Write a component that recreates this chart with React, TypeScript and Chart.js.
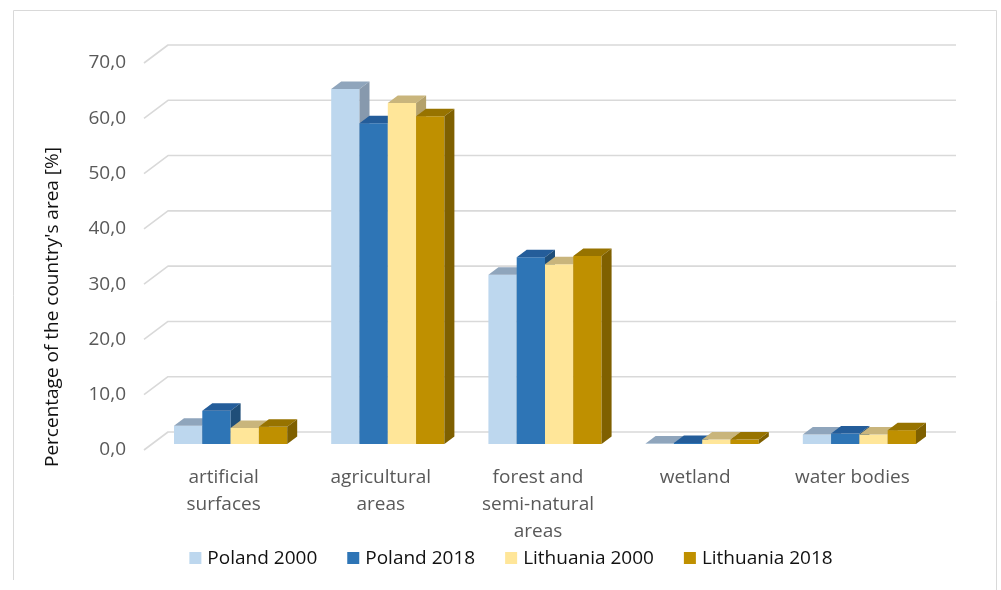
import React, { useEffect, useRef } from 'react';
import { Chart, registerables } from 'chart.js';

Chart.register(...registerables);

// Land-cover categories (multi-line axis labels)
const categories: (string | string[])[] = [
  ['artificial', 'surfaces'],
  ['agricultural', 'areas'],
  ['forest and', 'semi-natural', 'areas'],
  'wetland',
  'water bodies',
];

const seriesNames = ['Poland 2000', 'Poland 2018', 'Lithuania 2000', 'Lithuania 2018'];

// Share of the country's area, %
const poland2000 = [3.3, 64.2, 30.6, 0.1, 1.7];
const poland2018 = [6.0, 58.0, 33.8, 0.2, 1.9];
const lithuania2000 = [2.9, 61.7, 32.5, 0.8, 1.7];
const lithuania2018 = [3.1, 59.3, 34.0, 0.8, 2.5];

const yMin = 0;
const yMax = 70;
const yStep = 10;

// Face colours of the 3D columns
const frontColors = ['#BDD7EE', '#2E75B6', '#FFE699', '#BF9000'];
const topColors = ['#8FA5BC', '#245D9A', '#C9B57C', '#977300'];
const sideColors = ['#8799AD', '#1F4E79', '#B4A16B', '#7F6000'];

const FONT = '"Open Sans", sans-serif';
const TICK_COLOR = '#595959';
const TEXT_COLOR = '#111111';
const GRID_COLOR = '#D9D9D9';

// Oblique projection offsets relative to the front plane of the columns
const FRONT_WALL = { dx: -8, dy: 6 };
const BACK_WALL = { dx: 16, dy: -12 };
const BAR_DEPTH = { dx: 10, dy: -7.5 };

const formatTick = (v: number) => Number(v).toFixed(1).replace('.', ',');

const threeDPlugin = {
  id: 'threeDColumns',
  beforeDatasetsDraw(chart: any) {
    const { ctx, chartArea, scales } = chart;
    const y = scales.y;
    ctx.save();
    ctx.strokeStyle = GRID_COLOR;
    ctx.lineWidth = 1.6;
    ctx.lineJoin = 'round';
    y.ticks.forEach((t: any) => {
      const py = y.getPixelForValue(t.value);
      ctx.beginPath();
      ctx.moveTo(chartArea.left + FRONT_WALL.dx, py + FRONT_WALL.dy);
      ctx.lineTo(chartArea.left + BACK_WALL.dx, py + BACK_WALL.dy);
      ctx.lineTo(chartArea.right + BACK_WALL.dx + 2, py + BACK_WALL.dy);
      ctx.stroke();
    });
    ctx.restore();
  },
  beforeDatasetDraw() {
    // columns are painted group by group in afterDatasetsDraw
    return false;
  },
  afterDatasetsDraw(chart: any) {
    const ctx = chart.ctx;
    const count = chart.data.labels.length;
    const metas = chart.data.datasets.map((_: any, i: number) => chart.getDatasetMeta(i));
    for (let c = 0; c < count; c++) {
      metas.forEach((meta: any, d: number) => {
        const bar = meta.data[c];
        if (!bar) return;
        const { x, y, base, width } = bar.getProps(['x', 'y', 'base', 'width'], true);
        const l = x - width / 2;
        const r = x + width / 2;
        bar.draw(ctx);
        ctx.save();
        // top face
        ctx.fillStyle = topColors[d];
        ctx.beginPath();
        ctx.moveTo(l, y);
        ctx.lineTo(l + BAR_DEPTH.dx, y + BAR_DEPTH.dy);
        ctx.lineTo(r + BAR_DEPTH.dx, y + BAR_DEPTH.dy);
        ctx.lineTo(r, y);
        ctx.closePath();
        ctx.fill();
        // right side face
        ctx.fillStyle = sideColors[d];
        ctx.beginPath();
        ctx.moveTo(r, y);
        ctx.lineTo(r + BAR_DEPTH.dx, y + BAR_DEPTH.dy);
        ctx.lineTo(r + BAR_DEPTH.dx, base + BAR_DEPTH.dy);
        ctx.lineTo(r, base);
        ctx.closePath();
        ctx.fill();
        ctx.restore();
      });
    }
  },
  afterDraw(chart: any) {
    const ctx = chart.ctx;
    ctx.save();

    // outer frame
    ctx.strokeStyle = GRID_COLOR;
    ctx.lineWidth = 1;
    ctx.beginPath();
    ctx.moveTo(13.5, 580);
    ctx.lineTo(13.5, 10.5);
    ctx.lineTo(996.5, 10.5);
    ctx.lineTo(996.5, 590);
    ctx.stroke();

    // y-axis title
    ctx.font = `19px ${FONT}`;
    ctx.fillStyle = TEXT_COLOR;
    ctx.textAlign = 'center';
    ctx.textBaseline = 'middle';
    ctx.save();
    ctx.translate(53, 307);
    ctx.rotate(-Math.PI / 2);
    ctx.fillText("Percentage of the country's area [%]", 0, 0);
    ctx.restore();

    // legend
    const box = 12;
    const boxGap = 6;
    const itemGap = 30;
    const names = chart.data.datasets.map((ds: any) => ds.label);
    const widths = names.map((n: string) => box + boxGap + ctx.measureText(n).width);
    const total = widths.reduce((a: number, b: number) => a + b, 0) + itemGap * (names.length - 1);
    let lx = 511 - total / 2;
    const ly = 558;
    ctx.textAlign = 'left';
    names.forEach((n: string, i: number) => {
      ctx.fillStyle = chart.data.datasets[i].backgroundColor;
      ctx.fillRect(lx, ly - box / 2, box, box);
      ctx.fillStyle = TEXT_COLOR;
      ctx.fillText(n, lx + box + boxGap, ly + 1);
      lx += widths[i] + itemGap;
    });
    ctx.restore();
  },
};

export default function App() {
  const canvasRef = useRef<HTMLCanvasElement | null>(null);

  useEffect(() => {
    const canvas = canvasRef.current;
    if (!canvas) return;
    const values = [poland2000, poland2018, lithuania2000, lithuania2018];
    const chart = new Chart(canvas, {
      type: 'bar',
      data: {
        labels: categories as any,
        datasets: seriesNames.map((name, i) => ({
          label: name,
          data: values[i],
          backgroundColor: frontColors[i],
          borderWidth: 0,
          categoryPercentage: 0.72,
          barPercentage: 1,
        })),
      },
      options: {
        animation: false,
        responsive: false,
        events: [],
        layout: { padding: { left: 0, right: 63, top: 57, bottom: 0 } },
        plugins: {
          legend: { display: false },
          tooltip: { enabled: false },
        },
        scales: {
          x: {
            grid: { display: false, drawTicks: false },
            border: { display: false },
            ticks: {
              font: { family: FONT, size: 19, lineHeight: 1.42 },
              color: TICK_COLOR,
              padding: 20,
              labelOffset: -7,
              maxRotation: 0,
              autoSkip: false,
            },
            afterFit: (s: any) => {
              s.height = 146;
            },
          },
          y: {
            min: yMin,
            max: yMax,
            grid: { display: false, drawTicks: false },
            border: { display: false },
            ticks: {
              stepSize: yStep,
              padding: 26,
              labelOffset: 6,
              font: { family: FONT, size: 19 },
              color: TICK_COLOR,
              callback: (v: any) => formatTick(v),
            },
            afterFit: (s: any) => {
              s.width = 152;
            },
          },
        },
      },
      plugins: [threeDPlugin],
    });
    return () => chart.destroy();
  }, []);

  return (
    <div style={{ position: 'fixed', left: 0, top: 0, width: 1001, height: 590, background: '#ffffff' }}>
      <canvas ref={canvasRef} width={1001} height={590} style={{ display: 'block' }} />
    </div>
  );
}
